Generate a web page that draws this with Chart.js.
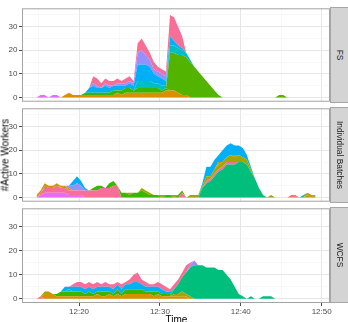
<!DOCTYPE html>
<html><head><meta charset="utf-8">
<script src="https://cdn.jsdelivr.net/npm/chart.js@4"></script>
<style>
html,body{margin:0;padding:0;background:#fff;}
#wrap{position:relative;width:348px;height:322px;overflow:hidden;font-family:"Liberation Sans",Arial,sans-serif;background:#fff;}
canvas{position:absolute;left:0;}
.strip{position:absolute;left:330px;width:20px;height:96px;background:#D4D4D4;border:1px solid #A6A6A6;box-sizing:border-box;}
.strip span{position:absolute;left:8.5px;top:50%;transform:translate(-50%,-50%) rotate(90deg);white-space:nowrap;font-size:8.4px;color:#1A1A1A;}
.ylab{position:absolute;left:4.5px;top:154.5px;transform:translate(-50%,-50%) rotate(-90deg);white-space:nowrap;font-size:10px;color:#000;}
.xlab{position:absolute;left:176.5px;top:314px;transform:translateX(-50%);font-size:10px;color:#000;white-space:nowrap;}
</style></head>
<body>
<div id="wrap">
  <canvas id="c1" width="348" height="106" style="top:2px"></canvas>
  <canvas id="c2" width="348" height="106" style="top:102px"></canvas>
  <canvas id="c3" width="348" height="120" style="top:202px"></canvas>
  <div class="strip" style="top:7px"><span>FS</span></div>
  <div class="strip" style="top:107px"><span>Individual Batches</span></div>
  <div class="strip" style="top:207px"><span>WCFS</span></div>
  <div class="ylab">#Active Workers</div>
  <div class="xlab">Time</div>
</div>
<script>
// ---- data (time = minutes after 12:00, centre of each 30-second bin) ----
const binCenters = [
14.75,15.25,15.75,16.25,16.75,17.25,17.75,18.25,18.75,19.25,
19.75,20.25,20.75,21.25,21.75,22.25,22.75,23.25,23.75,24.25,
24.75,25.25,25.75,26.25,26.75,27.25,27.75,28.25,28.75,29.25,
29.75,30.25,30.75,31.25,31.75,32.25,32.75,33.25,33.75,34.25,
34.75,35.25,35.75,36.25,36.75,37.25,37.75,38.25,38.75,39.25,
39.75,40.25,40.75,41.25,41.75,42.25,42.75,43.25,43.75,44.25,
44.75,45.25,45.75,46.25,46.75,47.25,47.75,48.25,48.75,49.25];

const panelNames = ["FS","Individual Batches","WCFS"];
const xTickValues = [20,30,40,50];
const xTickLabels = ["12:20","12:30","12:40","12:50"];
const xMinorValues = [15,25,35,45];
const yTickValues = [0,10,20,30];
const yMinorValues = [5,15,25,35];

// FS panel
const fsOrange = [
0,0,0,0,0,0,0,1,2,1, 1,1,1,1,1,1,1,1,1,1, 2,1,2,2,2,2,2,2,2,2, 2,2,3,3,3,2,1,1,0,0,
0,0,0,0,0,0,0,0,0,0, 0,0,0,0,0,0,0,0,0,0, 0,0,0,0,0,0,0,0,0,0];
const fsMagenta = [
0,1,1,0,1,1,0,0,0,0, 0,0,0,0,0,0,0,0,0,0, 0,0,0,0,0,0,0,0,0,0, 0,0,0,0,0,0,0,0,0,0,
0,0,0,0,0,0,0,0,0,0, 0,0,0,0,0,0,0,0,0,0, 0,0,0,0,0,0,0,0,0,0];
const fsGreen = [
0,0,0,0,0,0,0,0,0,0, 0,0,1,1,1,1,1,1,1,2, 1,2,2,2,1,2,2,2,2,2, 2,1,1,0,0,0,0,0,0,0,
0,0,0,0,0,0,0,0,0,0, 0,0,0,0,0,0,0,0,0,0, 0,0,0,0,0,0,0,0,0,0];
const fsLime = [
0,0,0,0,0,0,0,0,0,0, 0,0,0,0,0,0,0,0,0,0, 0,0,0,0,0,0,0,0,0,0, 0,0,0,16,16,16,17,16,15,13,
11,9,7,5,3,1,0,0,0,0, 0,0,0,0,0,0,0,0,0,0, 1,1,0,0,0,0,0,0,0,0];
const fsTeal = [
0,0,0,0,0,0,0,0,0,0, 0,0,0,0,0,0,0,0,0,0, 0,0,0,0,0,3,3,3,3,2, 2,2,1,3,3,3,2,2,1,0,
0,0,0,0,0,0,0,0,0,0, 0,0,0,0,0,0,0,0,0,0, 0,0,0,0,0,0,0,0,0,0];
const fsBlue = [
0,0,0,0,0,0,0,0,0,0, 0,0,0,2,3,2,2,3,2,2, 2,2,1,2,2,7,7,7,6,4, 3,3,2,4,2,1,1,0,0,0,
0,0,0,0,0,0,0,0,0,0, 0,0,0,0,0,0,0,0,0,0, 0,0,0,0,0,0,0,0,0,0];
const fsPurple = [
0,0,0,0,0,0,0,0,0,0, 0,0,0,0,1,1,0,1,1,0, 1,1,1,1,1,5,6,4,3,2, 2,2,2,0,0,0,0,0,0,0,
0,0,0,0,0,0,0,0,0,0, 0,0,0,0,0,0,0,0,0,0, 0,0,0,0,0,0,0,0,0,0];
const fsPink = [
0,0,0,0,0,0,0,0,0,0, 0,0,0,0,3,3,2,2,2,2, 2,1,2,2,1,4,5,4,3,3, 2,2,2,9,10,8,5,0,0,0,
0,0,0,0,0,0,0,0,0,0, 0,0,0,0,0,0,0,0,0,0, 0,0,0,0,0,0,0,0,0,0];

// Individual Batches panel
const ibGreen2 = [
0,0,0,0,0,0,0,0,0,0, 0,0,0,0,0,0,0,0,0,0, 0,0,0,0,0,0,0,0,0,0, 0,0,0,0,0,0,0,0,0,0,
0,4,6,7,9,11,12,14,14,14, 15,15,14,11,8,4,1,0,0,0, 0,0,0,0,0,0,0,0,0,0];
const ibMagenta = [
0,1,2,2,2,2,2,2,1,1, 1,1,0,0,0,0,0,0,0,0, 0,0,0,0,0,0,0,0,0,0, 0,0,0,0,0,0,0,0,0,0,
0,0,0,0,0,0,0,0,0,0, 0,0,0,0,0,0,0,0,0,0, 0,0,0,0,0,0,0,0,0,0];
const ibPink = [
0,1,2,2,2,3,2,2,2,2, 2,2,3,3,3,3,4,4,4,5, 5,0,0,0,0,0,0,0,0,0, 0,0,0,0,0,0,2,0,0,0,
0,0,1,1,1,1,1,1,1,1, 0,0,0,0,0,0,0,0,0,0, 0,0,0,0,0,0,0,0,0,0];
const ibGreen = [
0,0,0,0,0,0,0,0,0,0, 0,0,0,0,1,2,1,0,2,2, 0,2,2,1,2,2,3,2,1,1, 1,0,1,1,0,1,1,0,0,0,
0,0,0,0,0,0,0,0,0,0, 0,0,0,0,0,0,0,0,0,0, 0,0,0,0,0,0,0,0,0,0];
const ibOlive = [
0,0,1,0,0,1,0,1,0,0, 0,0,0,0,0,0,0,0,0,0, 0,0,0,1,0,0,1,1,1,0, 0,1,0,0,1,0,0,0,1,1,
1,1,2,1,2,2,2,2,3,2, 3,2,2,1,0,0,0,0,1,0, 0,0,0,0,0,0,0,1,0,1];
const ibOrange = [
1,1,1,1,1,0,1,0,1,0, 0,0,0,0,0,0,0,0,0,0, 0,0,0,0,0,0,0,0,0,0, 0,0,0,0,0,0,0,0,0,0,
0,0,0,0,0,1,0,0,0,1, 0,0,0,0,0,0,0,0,0,0, 0,0,0,0,0,0,0,1,1,0];
const ibSalmon = [
0,0,0,0,0,0,0,0,0,0, 0,0,0,0,0,0,0,0,0,0, 0,0,0,0,0,0,0,0,0,0, 0,0,0,0,0,0,0,0,0,0,
0,0,0,0,0,0,0,0,0,0, 0,0,0,0,0,0,0,0,0,0, 0,0,0,1,1,0,0,0,0,0];
const ibTeal = [
0,0,0,0,0,0,0,0,0,0, 0,0,0,0,0,0,0,0,0,0, 0,0,0,0,0,0,0,0,0,0, 0,0,0,0,0,0,0,0,0,0,
0,0,0,0,0,0,0,0,0,0, 0,0,0,0,0,0,0,0,0,0, 0,0,0,0,0,0,1,0,0,0];
const ibBlue = [
0,0,0,0,0,0,0,0,1,2, 3,2,0,0,0,0,0,0,0,0, 0,0,0,0,0,0,0,0,0,0, 0,0,0,0,0,0,0,0,0,0,
0,0,0,0,0,0,0,0,0,0, 0,0,0,0,0,0,0,0,0,0, 0,0,0,0,0,0,0,0,0,0];
const ibCyan = [
0,0,0,0,0,0,0,0,0,2, 3,2,1,0,0,0,0,0,0,0, 0,0,0,0,0,0,0,0,0,0, 0,0,0,0,0,0,0,0,0,0,
0,1,4,4,4,3,5,5,5,4, 4,4,2,1,0,0,0,0,0,0, 0,0,0,0,0,0,0,0,0,0];

// WCFS panel
const wcSalmon = [
0,1,0,0,0,0,0,0,0,0, 0,0,0,0,0,0,0,0,0,0, 0,0,0,0,0,0,0,0,0,0, 0,0,0,0,0,0,0,0,0,0,
0,0,0,0,0,0,0,0,0,0, 0,0,0,0,0,0,0,0,0,0, 0,0,0,0,0,0,0,0,0,0];
const wcOrange = [
0,0,2,2,2,1,1,1,1,1, 1,1,1,1,1,2,1,1,2,1, 2,1,2,2,2,2,2,2,2,1, 2,1,1,1,1,1,1,1,0,0,
0,0,0,0,0,0,0,0,0,0, 0,0,0,0,0,0,0,0,0,0, 0,0,0,0,0,0,0,0,0,0];
const wcOlive = [
0,0,1,1,0,0,0,0,0,0, 0,0,0,0,0,0,0,0,0,0, 0,0,0,0,0,0,0,0,0,0, 0,0,0,0,1,1,2,1,1,0,
0,0,0,0,0,0,0,0,0,0, 0,0,0,0,0,0,0,0,0,0, 0,0,0,0,0,0,0,0,0,0];
const wcGreen2 = [
0,0,0,0,0,0,0,0,0,0, 0,0,0,0,0,0,0,0,0,0, 0,0,0,0,0,0,0,0,0,0, 0,0,0,0,2,4,6,9,12,14,
14,14,13,13,13,12,12,10,8,5, 2,1,0,1,0,0,1,1,1,0, 0,0,0,0,0,0,0,0,0,0];
const wcGreen = [
0,0,0,0,0,1,2,2,2,2, 2,2,1,2,1,1,2,2,1,1, 2,1,2,2,2,2,2,1,1,2, 1,1,1,1,0,0,0,0,0,0,
0,0,0,0,0,0,0,0,0,0, 0,0,0,0,0,0,0,0,0,0, 0,0,0,0,0,0,0,0,0,0];
const wcTeal = [
0,0,0,0,0,0,0,0,1,0, 0,0,0,0,0,0,0,0,0,0, 0,0,0,0,0,0,0,0,0,0, 0,0,0,0,0,0,0,0,0,0,
0,0,0,0,0,0,0,0,0,0, 0,0,0,0,0,0,0,0,0,0, 0,0,0,0,0,0,0,0,0,0];
const wcBlue = [
0,0,0,0,0,0,0,2,1,2, 2,2,2,2,2,2,2,2,2,2, 2,2,2,2,3,3,2,2,2,2, 2,2,1,1,0,0,0,0,0,0,
0,0,0,0,0,0,0,0,0,0, 0,0,0,0,0,0,0,0,0,0, 0,0,0,0,0,0,0,0,0,0];
const wcPurple = [
0,0,0,0,0,0,0,0,0,0, 0,0,0,0,0,0,0,0,0,0, 0,0,0,0,0,0,0,0,0,0, 0,0,0,0,0,0,0,0,1,2,
0,0,0,0,0,0,0,0,0,0, 0,0,0,0,0,0,0,0,0,0, 0,0,0,0,0,0,0,0,0,0];
const wcPink = [
0,0,0,0,0,0,0,0,0,1, 2,2,2,2,2,2,1,2,1,2, 1,2,1,2,3,4,2,2,1,1, 2,2,2,1,2,2,2,3,1,0,
0,0,0,0,0,0,0,0,0,0, 0,0,0,0,0,0,0,0,0,0, 0,0,0,0,0,0,0,0,0,0];

// ---- styling ----
const COL = {
  salmon:'#F8766D', orange:'#D89000', olive:'#A3A500', lime:'#53B400', green:'#39B600',
  green2:'#00BF7D', teal:'#00BFC4', cyan:'#00B0F6', purple:'#9590FF', magenta:'#E76BF3', pink:'#F96E96'
};
const X_MIN = 12.95, X_MAX = 51.03, Y_MIN = -1.8, Y_MAX = 37.8;
const MAJOR = '#E6E6E6', MINOR = '#F3F3F3';
const FONT = {family:'"Liberation Sans", Arial, sans-serif', size:8};

const panels = [
  {canvas:'c1', showX:false, series:[
    ['orange',fsOrange],['magenta',fsMagenta],['green',fsGreen],['lime',fsLime],
    ['teal',fsTeal],['cyan',fsBlue],['purple',fsPurple],['pink',fsPink]]},
  {canvas:'c2', showX:false, series:[
    ['green2',ibGreen2],['magenta',ibMagenta],['pink',ibPink],['green',ibGreen],['olive',ibOlive],
    ['orange',ibOrange],['salmon',ibSalmon],['teal',ibTeal],['purple',ibBlue],['cyan',ibCyan]]},
  {canvas:'c3', showX:true, series:[
    ['salmon',wcSalmon],['orange',wcOrange],['olive',wcOlive],['green2',wcGreen2],['green',wcGreen],
    ['teal',wcTeal],['cyan',wcBlue],['purple',wcPurple],['pink',wcPink]]}
];

const panelBorder = {
  id:'panelBorder',
  afterDraw(chart){
    const {ctx, chartArea:a} = chart;
    ctx.save();
    ctx.strokeStyle = '#A3A3A3';
    ctx.lineWidth = 1;
    ctx.strokeRect(a.left+0.5, a.top+0.5, a.right-a.left-1, a.bottom-a.top-1);
    ctx.restore();
  }
};

function isIn(arr, v){ return arr.some(t => Math.abs(t - v) < 1e-6); }

panels.forEach((p, pi) => {
  const datasets = p.series.map(([c, vals], k) => ({
    label: panelNames[pi] + ' ' + c,
    data: binCenters.map((t, i) => ({x: t, y: vals[i]})),
    backgroundColor: COL[c],
    borderColor: COL[c],
    borderWidth: 0,
    pointRadius: 0,
    tension: 0,
    fill: k === 0 ? 'origin' : '-1',
    stack: 'all'
  }));
  new Chart(document.getElementById(p.canvas), {
    type: 'line',
    data: {datasets},
    options: {
      responsive: false, animation: false, devicePixelRatio: 1,
      layout: {padding: {top: 5, right: 18, bottom: p.showX ? 0 : 5, left: 0}},
      plugins: {legend: {display: false}, tooltip: {enabled: false}, filler: {propagate: false}},
      scales: {
        x: {
          type: 'linear', min: X_MIN, max: X_MAX, offset: false,
          border: {display: false},
          grid: {
            offset: false, drawTicks: p.showX, tickLength: 3,
            color: ctx => isIn(xTickValues, ctx.tick.value) ? MAJOR : MINOR,
            lineWidth: ctx => isIn(xTickValues, ctx.tick.value) ? 1 : 0.6,
            tickColor: ctx => isIn(xTickValues, ctx.tick.value) ? '#4D4D4D' : 'rgba(0,0,0,0)',
            tickWidth: 1
          },
          ticks: {
            display: p.showX, autoSkip: false, maxRotation: 0, padding: 1,
            font: FONT, color: '#4D4D4D',
            callback: v => { const k = xTickValues.findIndex(t => Math.abs(t - v) < 1e-6); return k >= 0 ? xTickLabels[k] : ''; }
          },
          afterBuildTicks: s => { s.ticks = xMinorValues.concat(xTickValues).sort((a,b)=>a-b).map(v => ({value: v})); },
          afterFit: s => { s.height = p.showX ? 19 : 0; }
        },
        y: {
          min: Y_MIN, max: Y_MAX, stacked: true,
          border: {display: false},
          grid: {
            drawTicks: true, tickLength: 3,
            color: ctx => isIn(yTickValues, ctx.tick.value) ? MAJOR : MINOR,
            lineWidth: ctx => isIn(yTickValues, ctx.tick.value) ? 1 : 0.6,
            tickColor: ctx => isIn(yTickValues, ctx.tick.value) ? '#4D4D4D' : 'rgba(0,0,0,0)',
            tickWidth: 1
          },
          ticks: {
            autoSkip: false, padding: 1.5, font: FONT, color: '#4D4D4D',
            callback: v => isIn(yTickValues, v) ? String(v) : ''
          },
          afterBuildTicks: s => { s.ticks = yMinorValues.concat(yTickValues).sort((a,b)=>a-b).map(v => ({value: v})); },
          afterFit: s => { s.width = 22; }
        }
      }
    },
    plugins: [panelBorder]
  });
});
</script>
</body></html>
